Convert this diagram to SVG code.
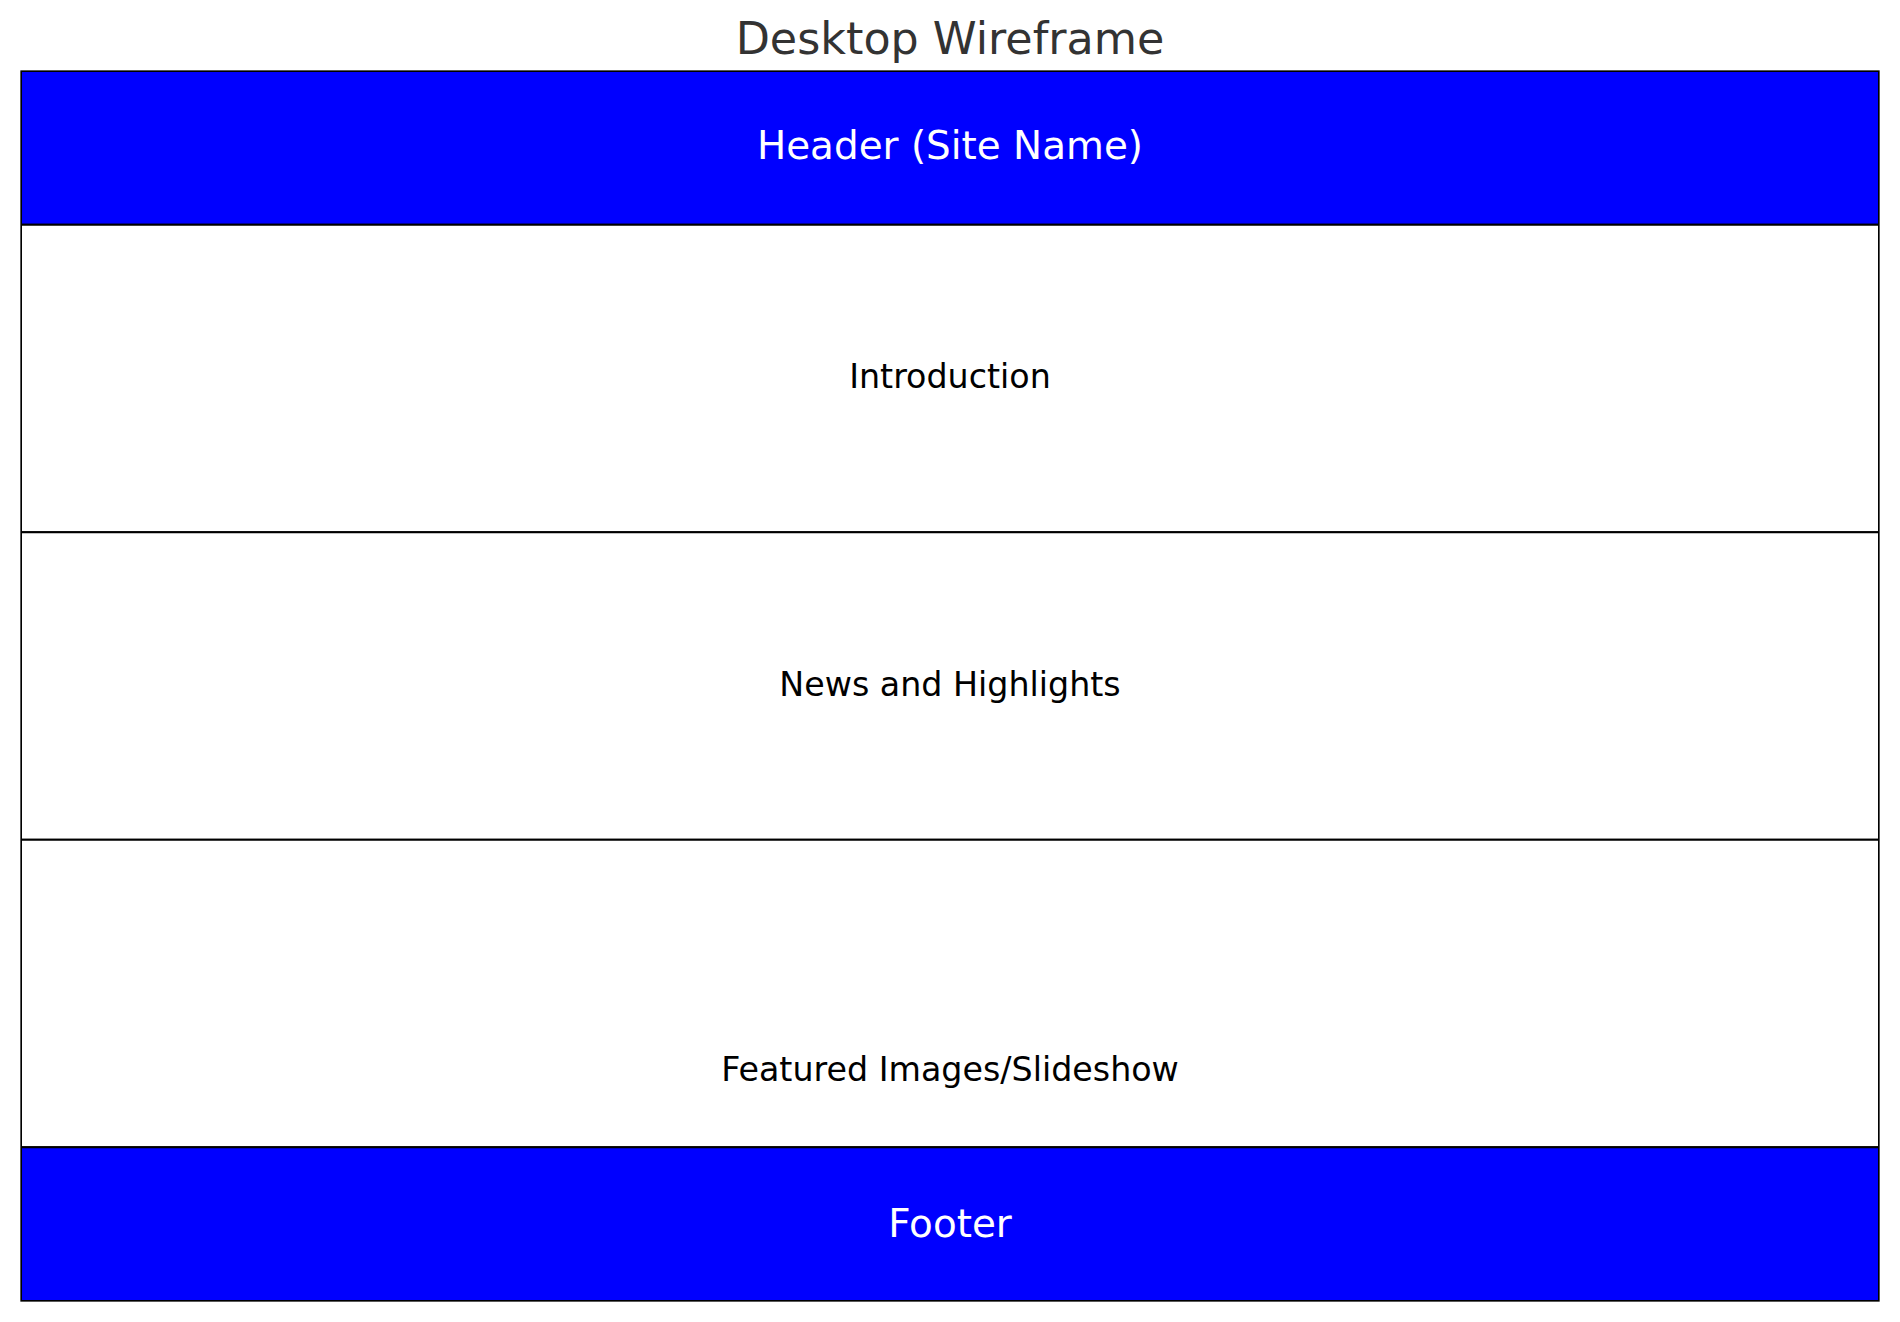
<svg xmlns="http://www.w3.org/2000/svg" width="1900" height="1322" viewBox="0 0 1900 1322">
  <style>
    .band { stroke: #000000; stroke-width: 2; }
    .dark { fill: #0000ff; }
    .light { fill: #ffffff; }
    .label { font-family: "DejaVu Sans", "Liberation Sans", sans-serif; text-anchor: middle; }
    .on-dark { fill: #ffffff; font-size: 38.9px; }
    .on-light { fill: #000000; font-size: 33.3px; }
    .title { fill: #333333; font-size: 44.4px; }
  </style>
  <defs>
    <clipPath id="page">
      <rect x="21" y="71" width="1858" height="1230"/>
    </clipPath>
  </defs>
  <rect x="0" y="0" width="1900" height="1322" fill="#ffffff"/>
  <text class="label title" x="950" y="54">Desktop Wireframe</text>

  <g clip-path="url(#page)">
    <g id="header">
      <rect class="band dark" x="21" y="71" width="1858" height="153.75"/>
      <text class="label on-dark" x="950" y="159">Header (Site Name)</text>
    </g>
    <g id="introduction">
      <rect class="band light" x="21" y="224.75" width="1858" height="307.5"/>
      <text class="label on-light" x="950" y="388.3">Introduction</text>
    </g>
    <g id="news">
      <rect class="band light" x="21" y="532.25" width="1858" height="307.5"/>
      <text class="label on-light" x="950" y="695.5">News and Highlights</text>
    </g>
    <g id="featured">
      <rect class="band light" x="21" y="839.75" width="1858" height="307.5"/>
      <text class="label on-light" x="950" y="1080.7">Featured Images/Slideshow</text>
    </g>
    <g id="footer">
      <rect class="band dark" x="21" y="1147.25" width="1858" height="153.75"/>
      <text class="label on-dark" x="950" y="1236.7">Footer</text>
    </g>
  </g>

  <g id="connectors"></g>

  <!-- page outline -->
  <rect x="21" y="71" width="1858" height="1230" fill="none" stroke="#000000" stroke-width="1.3"/>
</svg>
